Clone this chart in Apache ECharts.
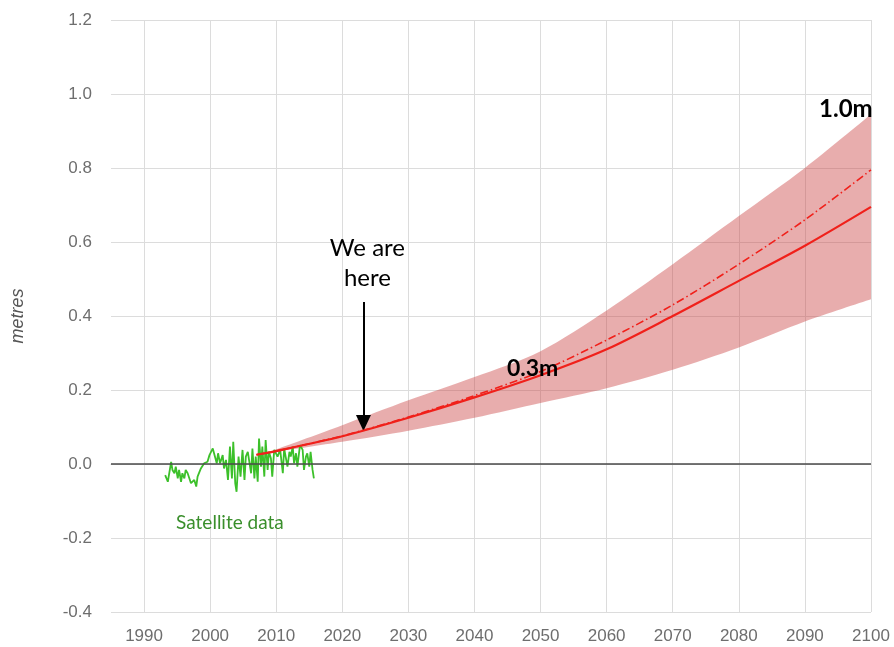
<!DOCTYPE html>
<html>
<head>
<meta charset="utf-8">
<script src="https://cdn.jsdelivr.net/npm/echarts@6/dist/echarts.min.js"></script>
<style>
  html, body { margin: 0; padding: 0; background: #fff; }
  #chart { width: 894px; height: 647px; }
</style>
</head>
<body>
<div id="chart"></div>
<script>
// Projected sea-level rise (metres), by year
const projYears  = [2007, 2010, 2020, 2030, 2040, 2050, 2060, 2070, 2080, 2090, 2100];
const projMedian = [0.025, 0.035, 0.075, 0.125, 0.18, 0.24, 0.31, 0.40, 0.495, 0.59, 0.695];
const projHigh   = [0.025, 0.035, 0.076, 0.127, 0.185, 0.25, 0.335, 0.43, 0.54, 0.66, 0.795];
const bandLower  = [0.025, 0.033, 0.06, 0.09, 0.125, 0.165, 0.205, 0.255, 0.315, 0.385, 0.445];
const bandUpper  = [0.025, 0.04, 0.105, 0.172, 0.235, 0.305, 0.415, 0.54, 0.67, 0.80, 0.945];

// Satellite altimetry record (metres)
const satYears = [1993.2, 1993.6, 1994.1, 1994.3, 1994.6, 1994.8, 1995.1, 1995.3, 1995.6, 1995.8,
  1996.1, 1996.3, 1996.6, 1997.1, 1997.6, 1997.9, 1998.1, 1998.6, 1999.1, 1999.6,
  1999.9, 2000.4, 2000.7, 2001.0, 2001.2, 2001.5, 2001.9, 2002.1, 2002.4, 2002.7,
  2003.0, 2003.3, 2003.5, 2003.8, 2004.0, 2004.3, 2004.6, 2004.9, 2005.2, 2005.4,
  2005.7, 2005.9, 2006.2, 2006.4, 2006.7, 2006.9, 2007.2, 2007.4, 2007.7, 2007.9,
  2008.2, 2008.4, 2008.7, 2008.9, 2009.2, 2009.4, 2009.7, 2010.2, 2010.6, 2011.0,
  2011.2, 2011.7, 2012.0, 2012.2, 2012.5, 2012.7, 2013.0, 2013.2, 2013.6, 2014.0,
  2014.2, 2014.5, 2014.7, 2015.0, 2015.2, 2015.5, 2015.7];
const satValues = [-0.030, -0.048, 0.006, -0.016, -0.025, -0.007, -0.039, -0.016, -0.048, -0.025,
  -0.039, -0.016, -0.025, -0.052, -0.043, -0.061, -0.034, -0.012, 0.002, 0.006,
  0.024, 0.042, 0.038, 0.002, 0.029, 0.002, 0.024, -0.012, 0.011, -0.043,
  0.047, -0.039, 0.060, -0.052, -0.075, 0.020, -0.034, 0.038, -0.043, 0.020,
  0.033, 0.038, -0.025, 0.042, -0.039, 0.020, -0.048, 0.069, -0.007, 0.047,
  -0.034, 0.065, -0.016, 0.033, 0.015, -0.034, 0.038, 0.020, 0.038, -0.025,
  0.042, -0.007, 0.033, 0.020, 0.047, 0.002, 0.029, -0.007, 0.051, 0.038,
  -0.016, 0.020, 0.029, -0.007, 0.033, -0.016, -0.039];

// Annotation text anchored in data space
const notes = [
  { text: 'We are', at: [2023.8, 0.582], size: 24, weight: 'normal' },
  { text: 'here',   at: [2023.8, 0.502], size: 24, weight: 'normal' },
  { text: '0.3m',   at: [2048.8, 0.257], size: 23, weight: 'bold' },
  { text: '1.0m',   at: [2096.2, 0.958], size: 24, weight: 'bold' }
];
const satLabel = { text: 'Satellite data', at: [2003.0, -0.160] };
const arrowYear = 2023.2, arrowTop = 0.438, arrowTip = 0.111;

const pairs = (xs, ys) => xs.map((x, i) => [x, ys[i]]);

// Cubic-bezier path segments through pixel points (cardinal style)
function curveSegments(pts) {
  const s = 0.15;
  let d = '';
  for (let i = 0; i < pts.length - 1; i++) {
    const p0 = pts[Math.max(i - 1, 0)], p1 = pts[i], p2 = pts[i + 1], p3 = pts[Math.min(i + 2, pts.length - 1)];
    const c1 = [p1[0] + (p2[0] - p0[0]) * s, p1[1] + (p2[1] - p0[1]) * s];
    const c2 = [p2[0] - (p3[0] - p1[0]) * s, p2[1] - (p3[1] - p1[1]) * s];
    d += ' C' + c1[0] + ',' + c1[1] + ' ' + c2[0] + ',' + c2[1] + ' ' + p2[0] + ',' + p2[1];
  }
  return d;
}

const chart = echarts.init(document.getElementById('chart'));
const axisFont = 'Liberation Sans, Arial, sans-serif';
const noteFont = 'Lato, Noto Sans, sans-serif';

chart.setOption({
  animation: false,
  backgroundColor: '#fff',
  grid: { left: 111, right: 23, top: 20, bottom: 35 },
  xAxis: {
    type: 'value', min: 1985, max: 2100, interval: 5,
    axisLine: { show: true, lineStyle: { color: '#d4d4d4' } },
    axisTick: { show: false },
    axisLabel: {
      color: '#6e6e6e', fontFamily: axisFont, fontSize: 17, margin: 16,
      formatter: v => (v % 10 === 0 ? String(v) : '')
    },
    splitLine: { show: true, lineStyle: { color: ['rgba(0,0,0,0)', '#dcdcdc'], width: 1 } }
  },
  yAxis: {
    type: 'value', min: -0.4, max: 1.2, interval: 0.2,
    name: 'metres', nameLocation: 'middle', nameGap: 84, nameRotate: 90,
    nameTextStyle: { color: '#555', fontFamily: axisFont, fontSize: 18, fontStyle: 'italic' },
    axisLine: { show: false }, axisTick: { show: false },
    axisLabel: { color: '#6e6e6e', fontFamily: axisFont, fontSize: 17, margin: 19,
      formatter: v => v.toFixed(1) },
    splitLine: { lineStyle: { color: '#dcdcdc', width: 1 } }
  },
  series: [
    {
      // Likely range: upper edge forward, lower edge back, closed
      name: 'range', type: 'custom', silent: true, z: 1,
      data: [[projYears[0], bandLower[0]]],
      renderItem: (params, api) => {
        const up = projYears.map((y, i) => api.coord([y, bandUpper[i]]));
        const lo = projYears.map((y, i) => api.coord([y, bandLower[i]])).reverse();
        const d = 'M' + up[0][0] + ',' + up[0][1] + curveSegments(up) +
          ' L' + lo[0][0] + ',' + lo[0][1] + curveSegments(lo) + ' Z';
        return { type: 'path', shape: { pathData: d }, style: { fill: 'rgba(200,60,60,0.42)' } };
      }
    },
    {
      name: 'satellite', type: 'line', symbol: 'none',
      data: pairs(satYears, satValues),
      lineStyle: { color: '#3cc02a', width: 1.8 }, z: 3,
      markLine: {
        silent: true, symbol: 'none', animation: false,
        lineStyle: { color: '#4a4a4a', width: 1.5, type: 'solid' },
        label: { show: false },
        data: [{ yAxis: 0 }]
      }
    },
    {
      name: 'high', type: 'line', symbol: 'none', smooth: 0.3,
      data: pairs(projYears, projHigh),
      lineStyle: { color: '#f0201a', width: 1.6, type: [8, 3, 1.5, 3] }, z: 4
    },
    {
      name: 'median', type: 'line', symbol: 'none', smooth: 0.3,
      data: pairs(projYears, projMedian),
      lineStyle: { color: '#f0201a', width: 2.2 }, z: 5,
      markLine: {
        silent: true, animation: false,
        symbol: ['none', 'triangle'], symbolSize: [15, 16],
        lineStyle: { color: '#000', width: 2, type: 'solid' },
        label: { show: false },
        data: [[{ coord: [arrowYear, arrowTop] }, { coord: [arrowYear, arrowTip] }]]
      }
    }
  ]
});

// Place annotation text at data coordinates
const g = [];
notes.forEach(n => {
  const p = chart.convertToPixel({ gridIndex: 0 }, n.at);
  g.push({
    type: 'text', x: p[0], y: p[1], z: 10,
    style: { text: n.text, fill: '#000', font: n.weight + ' ' + n.size + 'px ' + noteFont,
      align: 'center', verticalAlign: 'middle' }
  });
});
const sp = chart.convertToPixel({ gridIndex: 0 }, satLabel.at);
g.push({
  type: 'text', x: sp[0], y: sp[1], z: 10,
  style: { text: satLabel.text, fill: '#3a8f2c', font: '19px ' + noteFont,
    align: 'center', verticalAlign: 'middle' }
});
chart.setOption({ graphic: g });
</script>
</body>
</html>
